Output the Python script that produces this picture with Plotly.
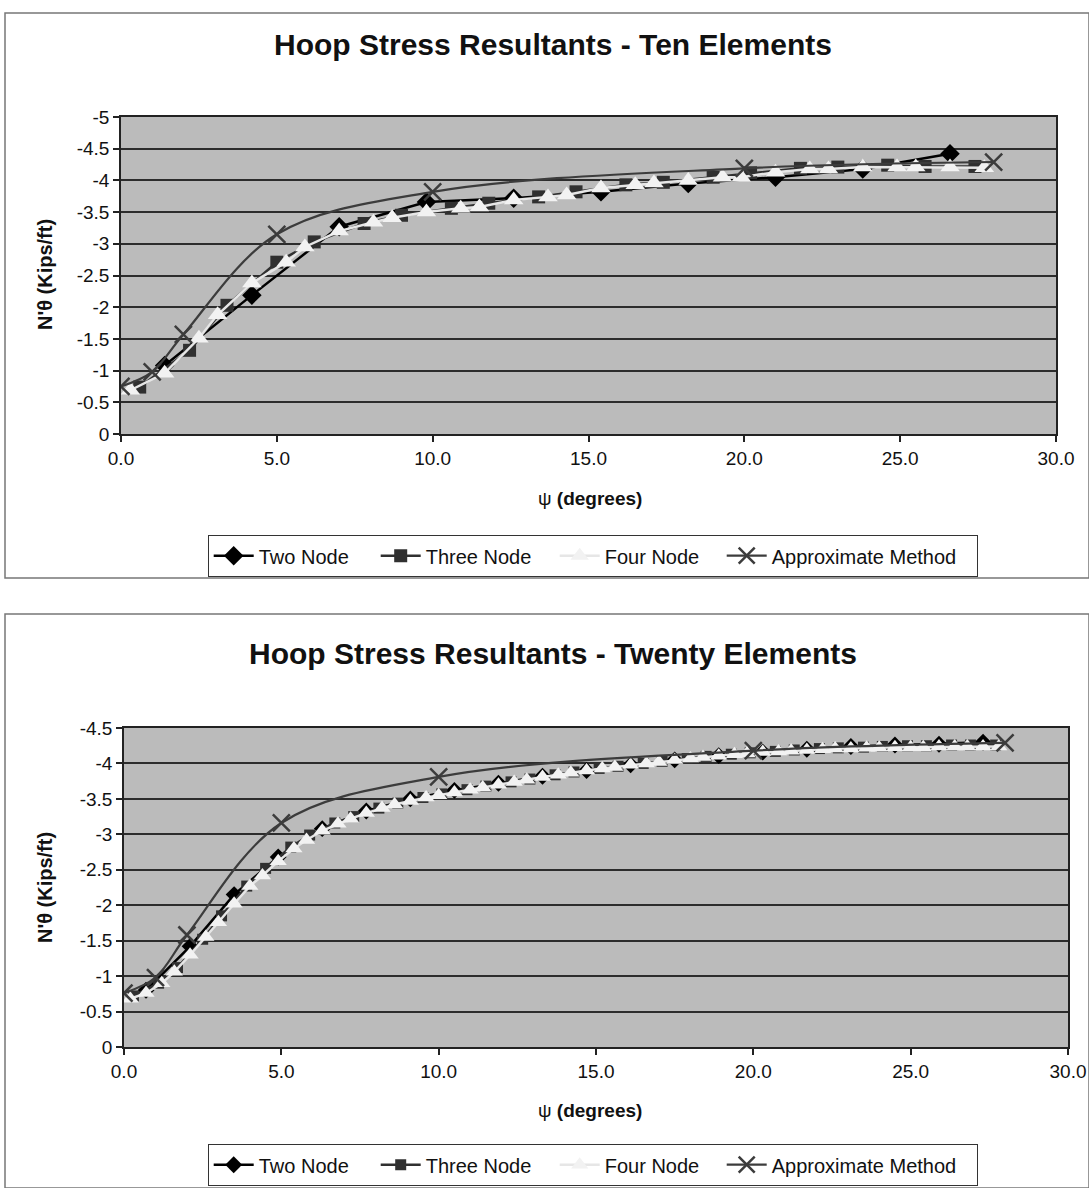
import plotly.graph_objects as go

# ---------------- Ten elements (top chart) ----------------
psi_two_10 = [1.4, 4.2, 7.0, 9.8, 12.6, 15.4, 18.2, 21.0, 23.8, 26.6]
n_two_10 = [-1.08, -2.19, -3.27, -3.66, -3.72, -3.82, -3.95, -4.05, -4.18, -4.42]

psi_three_10 = [0.6, 2.2, 3.4, 5.0, 6.2, 7.8, 9.0, 10.6, 11.8, 13.4,
                14.6, 16.2, 17.4, 19.0, 20.2, 21.8, 23.0, 24.6, 25.8, 27.4]
n_three_10 = [-0.74, -1.32, -2.03, -2.71, -3.03, -3.32, -3.45, -3.56, -3.64, -3.74,
              -3.82, -3.93, -3.97, -4.05, -4.12, -4.19, -4.21, -4.24, -4.22, -4.22]

psi_four_10 = [0.3, 1.4, 2.5, 3.1, 4.2, 5.3, 5.9, 7.0, 8.1, 8.7,
               9.8, 10.9, 11.5, 12.6, 13.7, 14.3, 15.4, 16.5, 17.1, 18.2,
               19.3, 19.9, 21.0, 22.1, 22.7, 23.8, 24.9, 25.5, 26.6, 27.7]
n_four_10 = [-0.69, -0.96, -1.51, -1.88, -2.38, -2.71, -2.95, -3.20, -3.34, -3.41,
             -3.50, -3.56, -3.58, -3.69, -3.74, -3.77, -3.88, -3.93, -3.96, -4.00,
             -4.05, -4.05, -4.13, -4.18, -4.18, -4.21, -4.21, -4.21, -4.21, -4.20]

psi_approx = [0, 1, 2, 5, 10, 20, 28]
n_approx = [-0.75, -0.98, -1.57, -3.15, -3.82, -4.19, -4.29]

# ---------------- Twenty elements (bottom chart) ----------------
psi_two_20 = [0.7, 2.1, 3.5, 4.9, 6.3, 7.7, 9.1, 10.5, 11.9, 13.3,
              14.7, 16.1, 17.5, 18.9, 20.3, 21.7, 23.1, 24.5, 25.9, 27.3]
n_two_20 = [-0.80, -1.42, -2.15, -2.68, -3.08, -3.33, -3.50, -3.62, -3.72, -3.82,
            -3.90, -3.98, -4.05, -4.11, -4.16, -4.20, -4.24, -4.26, -4.27, -4.30]

psi_three_20 = [0.3, 1.1, 1.7, 2.5, 3.1, 3.9, 4.5, 5.3, 5.9, 6.7,
                7.3, 8.1, 8.7, 9.5, 10.1, 10.9, 11.5, 12.3, 12.9, 13.7,
                14.3, 15.1, 15.7, 16.5, 17.1, 17.9, 18.5, 19.3, 19.9, 20.7,
                21.3, 22.1, 22.7, 23.5, 24.1, 24.9, 25.5, 26.3, 26.9, 27.7]
n_three_20 = [-0.72, -0.90, -1.12, -1.52, -1.85, -2.27, -2.52, -2.82, -2.99, -3.16,
              -3.25, -3.37, -3.44, -3.52, -3.57, -3.63, -3.68, -3.74, -3.78, -3.84,
              -3.88, -3.93, -3.96, -4.00, -4.03, -4.07, -4.10, -4.13, -4.15, -4.17,
              -4.19, -4.21, -4.22, -4.23, -4.24, -4.25, -4.25, -4.26, -4.26, -4.26]

psi_four_20 = [0.2, 0.7, 1.2, 1.6, 2.1, 2.6, 3.0, 3.5, 4.0, 4.4,
               4.9, 5.4, 5.8, 6.3, 6.8, 7.2, 7.7, 8.2, 8.6, 9.1,
               9.6, 10.0, 10.5, 11.0, 11.4, 11.9, 12.4, 12.8, 13.3, 13.8,
               14.2, 14.7, 15.2, 15.6, 16.1, 16.6, 17.0, 17.5, 18.0, 18.4,
               18.9, 19.4, 19.8, 20.3, 20.8, 21.2, 21.7, 22.2, 22.6, 23.1,
               23.6, 24.0, 24.5, 25.0, 25.4, 25.9, 26.4, 26.8, 27.3, 27.8]
n_four_20 = [-0.68, -0.76, -0.90, -1.06, -1.30, -1.55, -1.76, -2.02, -2.27, -2.42,
             -2.62, -2.80, -2.92, -3.05, -3.15, -3.22, -3.30, -3.37, -3.42, -3.47,
             -3.52, -3.55, -3.59, -3.63, -3.66, -3.70, -3.74, -3.77, -3.81, -3.84,
             -3.87, -3.90, -3.93, -3.95, -3.98, -4.00, -4.02, -4.05, -4.07, -4.09,
             -4.11, -4.13, -4.14, -4.16, -4.17, -4.18, -4.19, -4.20, -4.21, -4.21,
             -4.22, -4.22, -4.23, -4.23, -4.23, -4.24, -4.24, -4.24, -4.24, -4.24]

psi_approx_20 = [0, 1, 2, 5, 10, 20, 28]
n_approx_20 = [-0.76, -0.98, -1.58, -3.16, -3.81, -4.18, -4.29]

# axis ticks
x_ticks = [0, 5, 10, 15, 20, 25, 30]
x_ticktext = ["0.0", "5.0", "10.0", "15.0", "20.0", "25.0", "30.0"]
y_ticks_10 = [0, -0.5, -1, -1.5, -2, -2.5, -3, -3.5, -4, -4.5, -5]
y_ticktext_10 = ["0", "-0.5", "-1", "-1.5", "-2", "-2.5", "-3", "-3.5", "-4", "-4.5", "-5"]
y_ticks_20 = [0, -0.5, -1, -1.5, -2, -2.5, -3, -3.5, -4, -4.5]
y_ticktext_20 = ["0", "-0.5", "-1", "-1.5", "-2", "-2.5", "-3", "-3.5", "-4", "-4.5"]

W, H = 1089, 1188
FONT = "Liberation Sans, Arial, sans-serif"

fig = go.Figure()


def add_set(xa, ya, leg, two, three, four, approx, msz):
    fig.add_trace(go.Scatter(
        x=two[0], y=two[1], name="Two Node", mode="lines+markers",
        xaxis=xa, yaxis=ya, legend=leg, legendwidth=112,
        line=dict(color="#000000", width=2.5),
        marker=dict(symbol="diamond", size=msz + 2, color="#000000")))
    fig.add_trace(go.Scatter(
        x=three[0], y=three[1], name="Three Node", mode="lines+markers",
        xaxis=xa, yaxis=ya, legend=leg, legendwidth=124,
        line=dict(color="#303030", width=2.5),
        marker=dict(symbol="square", size=msz, color="#303030")))
    fig.add_trace(go.Scatter(
        x=four[0], y=four[1], name="Four Node", mode="lines+markers",
        xaxis=xa, yaxis=ya, legend=leg, legendwidth=112,
        line=dict(color="#e6e6e6", width=2.5),
        marker=dict(symbol="triangle-up", size=msz + 4, color="#f2f2f2")))
    fig.add_trace(go.Scatter(
        x=approx[0], y=approx[1], name="Approximate Method", mode="lines+markers",
        xaxis=xa, yaxis=ya, legend=leg, legendwidth=200,
        line=dict(color="#3c3c3c", width=2.2, shape="spline", smoothing=1.0),
        marker=dict(symbol="x-thin", size=17,
                    line=dict(color="#3c3c3c", width=2.5))))


add_set("x", "y", "legend",
        (psi_two_10, n_two_10), (psi_three_10, n_three_10),
        (psi_four_10, n_four_10), (psi_approx, n_approx), 13)
add_set("x2", "y2", "legend2",
        (psi_two_20, n_two_20), (psi_three_20, n_three_20),
        (psi_four_20, n_four_20), (psi_approx_20, n_approx_20), 11)

# plot area pixel boxes
top_box = dict(l=121, r=1056, t=117, b=434)
bot_box = dict(l=124, r=1068, t=728, b=1047)


def dom_x(b):
    return [b["l"] / W, b["r"] / W]


def dom_y(b):
    return [1 - b["b"] / H, 1 - b["t"] / H]


xcommon = dict(range=[0, 30], tickvals=x_ticks, ticktext=x_ticktext,
               ticks="outside", ticklen=6, tickcolor="#222", tickwidth=1.5,
               showgrid=False, zeroline=False, showline=True, linecolor="#222",
               linewidth=1.5, mirror=True, automargin=False,
               tickfont=dict(family=FONT, size=19, color="#111"))
ycommon = dict(ticks="outside", ticklen=6, tickcolor="#222", tickwidth=1.5,
               showgrid=True, gridcolor="#2c2c2c", gridwidth=1.5, zeroline=False,
               showline=True, linecolor="#222", linewidth=1.5, mirror=True,
               automargin=False,
               tickfont=dict(family=FONT, size=19, color="#111"))

legend_common = dict(orientation="h", x=593 / W, xanchor="center", yanchor="top",
                     bordercolor="#333", borderwidth=1.2, bgcolor="white",
                     font=dict(family=FONT, size=20, color="#111"),
                     itemwidth=40, tracegroupgap=0)

fig.update_layout(
    width=W, height=H,
    margin=dict(l=0, r=0, t=0, b=0, pad=0, autoexpand=False),
    paper_bgcolor="white",
    plot_bgcolor="#bbbbbb",
    xaxis=dict(domain=dom_x(top_box), anchor="y", **xcommon),
    yaxis=dict(domain=dom_y(top_box), anchor="x", range=[0, -5],
               tickvals=y_ticks_10, ticktext=y_ticktext_10, **ycommon),
    xaxis2=dict(domain=dom_x(bot_box), anchor="y2", **xcommon),
    yaxis2=dict(domain=dom_y(bot_box), anchor="x2", range=[0, -4.5],
                tickvals=y_ticks_20, ticktext=y_ticktext_20, **ycommon),
    legend=dict(y=1 - 535 / H, **legend_common),
    legend2=dict(y=1 - 1144 / H, **legend_common),
    showlegend=True,
)

ann = []
ann.append(dict(text="<b>Hoop Stress Resultants - Ten Elements</b>", x=553 / W, y=1 - 45 / H,
                xref="paper", yref="paper", showarrow=False,
                xanchor="center", yanchor="middle",
                font=dict(family=FONT, size=30, color="#111")))
ann.append(dict(text="<b>Hoop Stress Resultants - Twenty Elements</b>", x=553 / W, y=1 - 653 / H,
                xref="paper", yref="paper", showarrow=False,
                xanchor="center", yanchor="middle",
                font=dict(family=FONT, size=30, color="#111")))
for yc in (275, 888):
    ann.append(dict(text="<b>N'θ (Kips/ft)</b>", x=45 / W, y=1 - yc / H,
                    xref="paper", yref="paper", showarrow=False, textangle=-90,
                    xanchor="center", yanchor="middle",
                    font=dict(family=FONT, size=20, color="#111")))
for yc in (499, 1110):
    ann.append(dict(text="ψ <b>(degrees)</b>", x=590 / W, y=1 - yc / H,
                    xref="paper", yref="paper", showarrow=False,
                    xanchor="center", yanchor="middle",
                    font=dict(family=FONT, size=19, color="#111")))
fig.update_layout(annotations=ann)

# outer chart frames
fig.add_shape(type="rect", xref="paper", yref="paper",
              x0=5 / W, x1=1.0, y0=1 - 578 / H, y1=1 - 13 / H,
              line=dict(color="#777", width=1.5), fillcolor="rgba(0,0,0,0)", layer="below")
fig.add_shape(type="rect", xref="paper", yref="paper",
              x0=5 / W, x1=1.0, y0=0.0, y1=1 - 614 / H,
              line=dict(color="#777", width=1.5), fillcolor="rgba(0,0,0,0)", layer="below")

fig.write_html("out.html")
